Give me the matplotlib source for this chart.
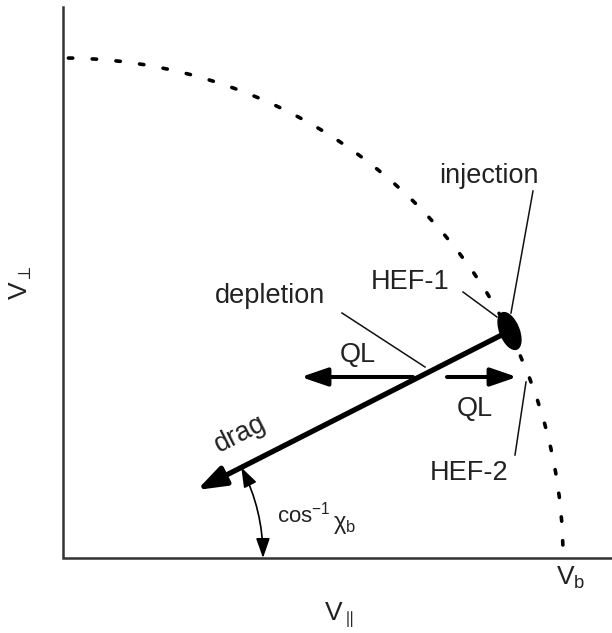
import matplotlib.pyplot as plt
from matplotlib.patches import Arc, Ellipse, FancyArrowPatch
import numpy as np

plt.rcParams['font.family'] = ['Liberation Sans', 'DejaVu Sans']
plt.rcParams['mathtext.fontset'] = 'custom'
plt.rcParams['mathtext.rm'] = 'Liberation Sans'
plt.rcParams['mathtext.it'] = 'Liberation Sans:italic'
plt.rcParams['mathtext.bf'] = 'Liberation Sans:bold'

# velocity space, normalised to the beam injection speed v_b
v_b = 1.0
v_par_max = 1.098
v_perp_max = 1.102

# fast ion birth point (injection) and slowing-down end of the drag path
injection = np.array([0.893, 0.454])
drag_end = np.array([0.268, 0.136])
blob_size = (0.038, 0.078)

# quasi-linear diffusion arrows along v_par at fixed v_perp
ql_v_perp = 0.362
ql_left = (0.700, 0.476)
ql_right = (0.768, 0.908)

# pitch angle arc radius
arc_radius = 0.40

# leader lines: label -> (from, to)
leaders = {
    'injection': ((0.940, 0.734), (0.896, 0.490)),
    'HEF-1': ((0.800, 0.532), (0.868, 0.482)),
    'depletion': ((0.558, 0.490), (0.724, 0.382)),
    'HEF-2': ((0.904, 0.206), (0.926, 0.352)),
}

fig = plt.figure(figsize=(6.12, 6.33), dpi=100)
ax = fig.add_axes([0, 0, 1, 1])
ax.set_xlim(-0.126, 1.098)
ax.set_ylim(-0.15, 1.116)
ax.axis('off')

ink = '#111111'
txt = '#222222'

# axes
ax.plot([0, 0, v_par_max], [v_perp_max, 0, 0], color='#333333', lw=1.8,
        solid_joinstyle='miter')

# v = v_b boundary
ax.add_patch(Arc((0, 0), 2 * v_b, 2 * v_b, theta1=0, theta2=90,
                 color='black', lw=2.6, linestyle=(3.0, (1.2, 5.4)),
                 capstyle='round'))

# drag path from the injection point toward the origin
ax.add_patch(FancyArrowPatch(injection, drag_end,
                             arrowstyle='-|>,head_length=1.7,head_width=0.6',
                             mutation_scale=10, lw=3.8, color='black',
                             shrinkA=0, shrinkB=0))
ax.add_patch(Ellipse(injection, blob_size[0], blob_size[1], angle=22,
                     color='black'))

# QL arrows
for x0, x1 in (ql_left, ql_right):
    ax.add_patch(FancyArrowPatch((x0, ql_v_perp), (x1, ql_v_perp),
                                 arrowstyle='-|>,head_length=1.6,head_width=0.55',
                                 mutation_scale=10, lw=2.9, color='black',
                                 shrinkA=0, shrinkB=0))

# pitch angle arc between the drag path and the v_par axis
theta = np.arctan2(injection[1], injection[0])
pa = arc_radius * np.array([np.cos(theta), np.sin(theta)])
pb = np.array([arc_radius, 0.0])
half = theta / 2
rad = -(1 - np.cos(half)) / np.sin(half)
ax.add_patch(FancyArrowPatch(pa, pb, connectionstyle=f'arc3,rad={rad:.3f}',
                             arrowstyle='<|-|>,head_length=1.2,head_width=0.42',
                             mutation_scale=10, lw=1.2, color='black',
                             shrinkA=0, shrinkB=0))

for (p0, p1) in leaders.values():
    ax.plot([p0[0], p1[0]], [p0[1], p1[1]], color=ink, lw=1.1)

fs = 19.5
ax.text(0.852, 0.750, 'injection', fontsize=fs, color=txt, ha='center', va='baseline')
ax.text(0.774, 0.538, 'HEF-1', fontsize=fs, color=txt, ha='right', va='baseline')
ax.text(0.414, 0.510, 'depletion', fontsize=fs, color=txt, ha='center', va='baseline')
ax.text(0.590, 0.392, 'QL', fontsize=fs, color=txt, ha='center', va='baseline')
ax.text(0.824, 0.284, 'QL', fontsize=fs, color=txt, ha='center', va='baseline')
ax.text(0.812, 0.156, 'HEF-2', fontsize=fs, color=txt, ha='center', va='baseline')
ax.text(0.354, 0.248, 'drag', fontsize=fs, color=txt, ha='center', va='center',
        rotation=np.degrees(theta), rotation_mode='anchor')

ax.text(0.428, 0.072, r'$\mathregular{cos^{-1}}$', fontsize=16, color=txt,
        ha='left', va='baseline')
ax.text(0.540, 0.058, r'$\mathregular{\chi_b}$', fontsize=17, color=txt,
        ha='left', va='baseline')

fv = 19
ax.text(1.016, -0.054, r'$\mathregular{V_b}$', fontsize=fv, color=txt,
        ha='center', va='baseline')
ax.text(0.552, -0.124, r'$\mathregular{V_{\parallel}}$', fontsize=fv, color=txt,
        ha='center', va='baseline')
ax.text(-0.070, 0.550, r'$\mathregular{V_{\perp}}$', fontsize=fv, color=txt,
        ha='center', va='baseline', rotation=90, rotation_mode='anchor')

fig.savefig('out.png', dpi=100)
